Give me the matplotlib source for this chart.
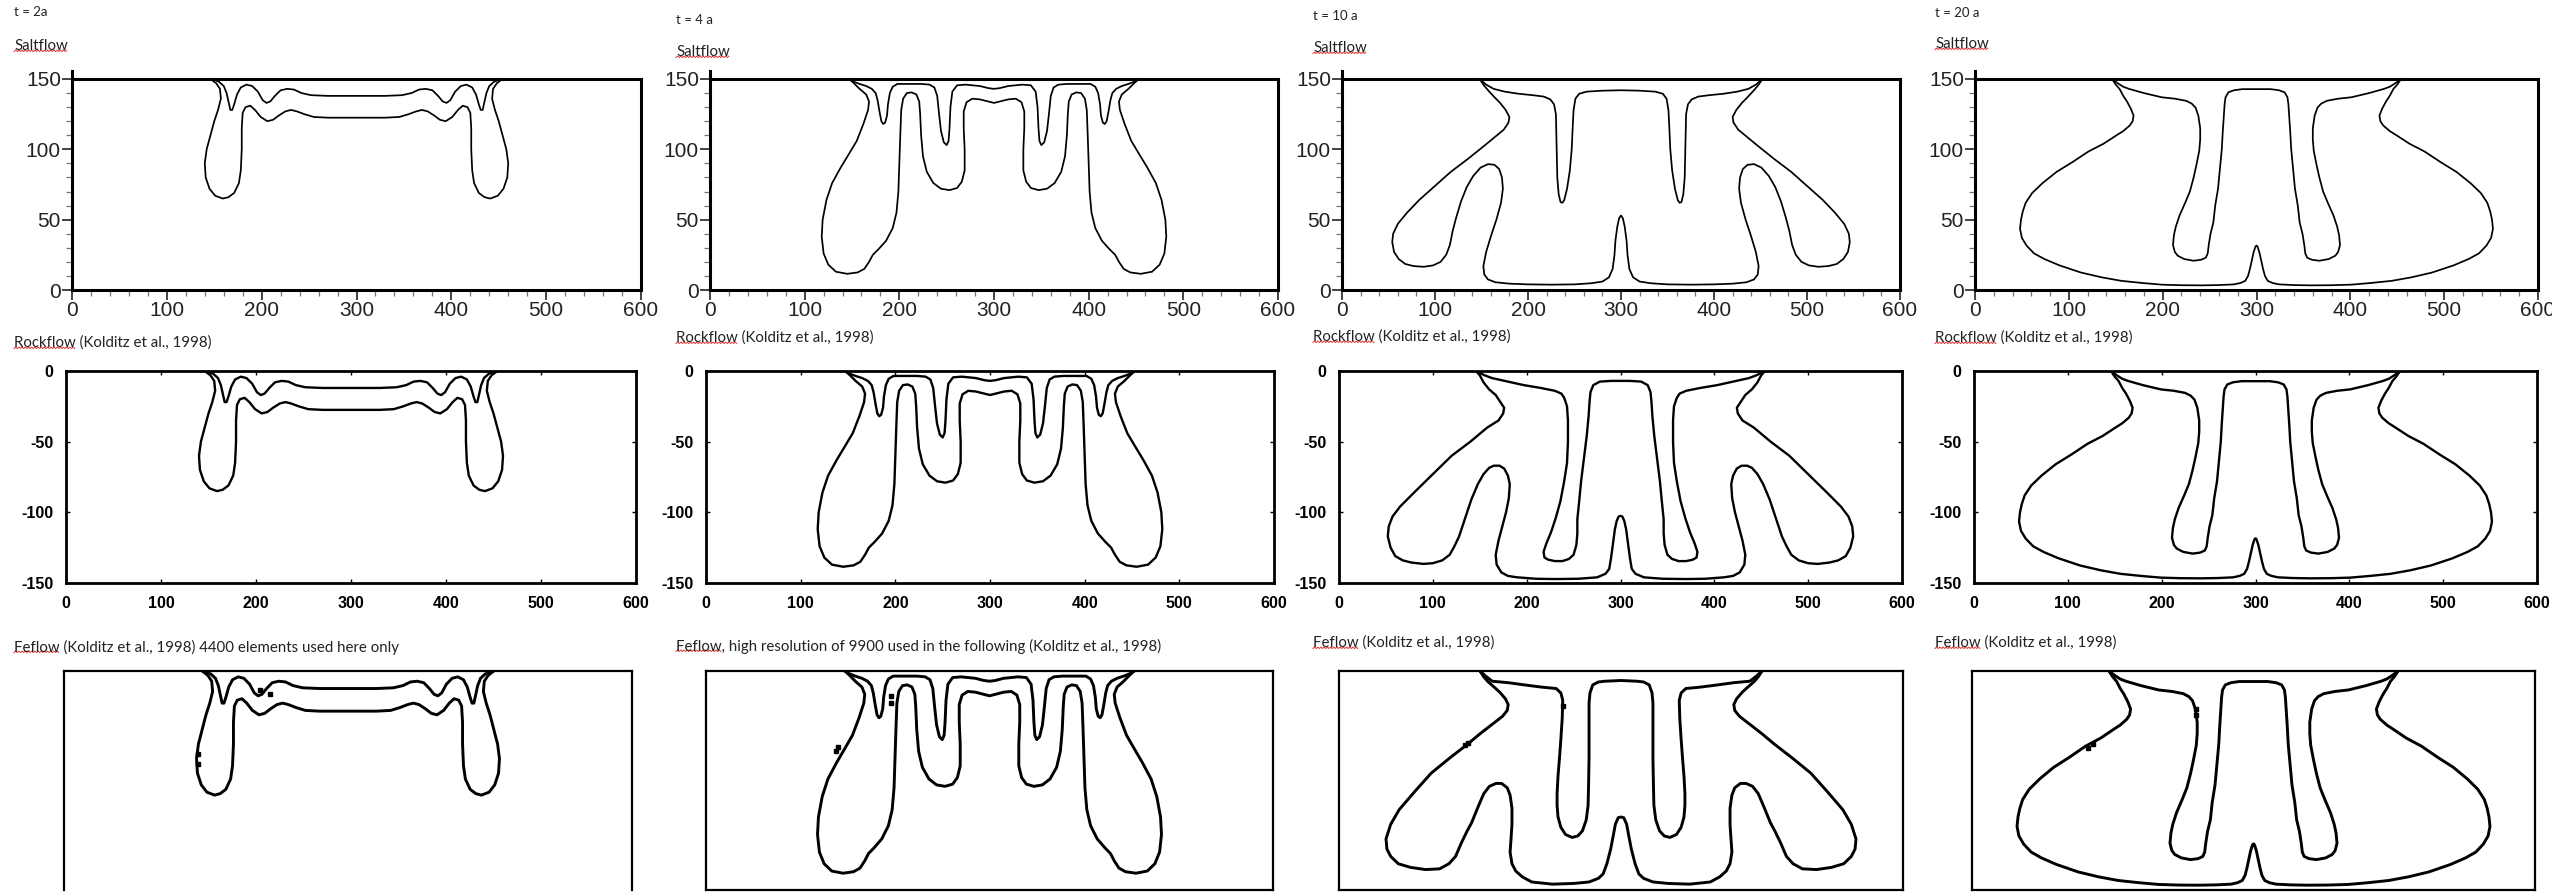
import numpy as np
import matplotlib
matplotlib.use("Agg")
import matplotlib.pyplot as plt
from matplotlib.lines import Line2D
from matplotlib.ticker import MultipleLocator
from matplotlib.transforms import IdentityTransform

plt.rcParams["axes.unicode_minus"] = False

W, H = 2552, 892

# --- contour data: left half (x, y), model units, y = 150 is the top --------
# the plumes are mirror-symmetric about x = 300, right half is x -> 600 - x

T2_OUTER = [(146, 150), (152, 147), (156, 143), (157, 136), (154, 128), (150, 120),
            (146, 110), (142, 100), (140, 90), (141, 80), (145, 72), (151, 67),
            (159, 65), (165, 66), (171, 69), (176, 76), (178, 85), (179, 100),
            (179, 115), (180, 126), (183, 130), (188, 131), (193, 128), (199, 123),
            (206, 120), (212, 121), (218, 124), (225, 127), (231, 128), (237, 127),
            (245, 125), (255, 123), (270, 122.5), (300, 122.5)]
T2_INNER = [(148, 150), (155, 148), (160, 145), (163, 140), (165, 134), (167, 128),
            (169, 128), (171, 132), (174, 139), (178, 144), (184, 146), (190, 145),
            (196, 141), (201, 135), (205, 133), (209, 134), (214, 138), (220, 142),
            (227, 143), (234, 142.5), (242, 140), (252, 138.5), (270, 138), (300, 138)]

T4_OUTER = [(147, 150), (152, 147), (158, 143), (165, 139), (168, 134), (167, 128),
            (162, 118), (155, 106), (147, 97), (138, 87), (129, 76), (123, 64),
            (119, 50), (118, 38), (120, 26), (125, 18), (133, 13), (145, 11.5),
            (156, 12.5), (163, 15), (168, 20), (172, 25), (178, 29), (186, 35),
            (193, 44), (197, 55), (199, 70), (200, 90), (201, 110), (202, 128),
            (204, 136), (208, 140), (213, 140.5), (218, 139), (221, 134), (222, 125),
            (223, 110), (225, 95), (229, 84), (236, 76), (244, 72), (253, 71),
            (261, 72.5), (266, 77), (269, 85), (269, 100), (268, 115), (268, 127),
            (271, 133.5), (277, 136), (285, 135.5), (294, 134), (300, 133)]
T4_INNER = [(147, 150), (152, 148), (158, 146.5), (165, 145), (171, 143), (175, 140),
            (177, 135), (179, 127), (181, 120), (183, 118), (185, 119), (187, 124),
            (188, 132), (190, 140), (193, 144.5), (198, 146.5), (210, 146.5),
            (223, 146.5), (232, 146), (237, 144), (240, 138), (242, 125), (244, 113),
            (247, 105), (250, 103), (252, 106), (253, 115), (254, 130), (256, 141),
            (261, 145.5), (270, 146), (285, 145), (294, 143.5), (300, 143)]

T10_OUTER = [(148, 150), (152, 146), (157, 142), (164, 137), (170, 133), (176, 128),
             (180, 123), (179, 119), (174, 114), (163, 108), (152, 102), (135, 93),
             (117, 84), (100, 74), (83, 64), (70, 55), (60, 47), (55, 40), (54, 34),
             (56, 27), (61, 22), (68, 18.5), (77, 17), (88, 16.5), (98, 17.5),
             (106, 20), (112, 25), (116, 32), (119, 42), (123, 52), (128, 63),
             (134, 73), (141, 81), (149, 87), (157, 89.5), (164, 89), (169, 86),
             (172, 80), (173, 72), (171, 62), (166, 50), (160, 38), (155, 27),
             (152, 17), (153, 11), (157, 7.5), (165, 5.5), (180, 4.5), (200, 4),
             (225, 3.8), (250, 4), (268, 4.8), (280, 6), (287, 9), (291, 15),
             (293, 25), (294, 35), (296, 45), (298, 51), (300, 53)]
T10_INNER = [(148, 150), (155, 146), (163, 143), (175, 141), (190, 139.5),
             (205, 138.5), (217, 137.5), (224, 135.5), (228, 132), (230, 125),
             (230.5, 110), (231, 95), (231.5, 80), (233, 68), (235, 62.5), (237, 62),
             (239, 64), (242, 72), (245, 85), (247, 100), (248, 115), (249, 128),
             (251, 136), (255, 139.5), (263, 141), (280, 141.7), (300, 142)]

T10_OUTER_ROCK = [(146, 150), (150, 147), (154, 142), (160, 137), (167, 133),
                  (172, 128), (176, 124), (175, 120), (170, 115), (158, 110),
                  (140, 100), (120, 90), (100, 77), (80, 64), (65, 54), (57, 47),
                  (53, 40), (52, 33), (55, 25), (60, 19), (68, 16), (77, 14.5),
                  (90, 13.5), (100, 14), (110, 16), (118, 20), (123, 26), (128, 33),
                  (134, 45), (141, 59), (148, 70), (154, 77), (160, 81.5), (165, 83),
                  (171, 83), (176, 81), (180, 76), (182, 70), (181, 60), (178, 50),
                  (174, 40), (170, 30), (167, 20), (168, 13), (173, 7.5), (180, 5),
                  (190, 4), (210, 3), (230, 2.8), (255, 3), (275, 4), (284, 6.5),
                  (288, 10), (290, 18), (292, 28), (294, 38), (296, 44), (298, 47),
                  (300, 47.5)]
T10_INNER_ROCK = [(146, 150), (155, 147), (163, 145), (180, 142.5), (197, 140),
                  (215, 138), (230, 136), (237, 134), (240, 131), (243, 125),
                  (244, 115), (244, 100), (243, 85), (240, 72), (236, 58), (231, 46),
                  (226, 36), (221, 28), (218, 22), (219, 18), (223, 16.5), (230, 15.5),
                  (238, 15.5), (245, 17), (250, 20), (253, 27), (254, 35), (254, 45),
                  (256, 58), (258, 72), (261, 88), (264, 104), (266, 118), (267, 128),
                  (268, 135), (271, 140), (278, 142.5), (290, 143), (300, 143)]

T10_OUTER_FE = [(150, 150), (154, 146), (158, 143), (165, 139), (171, 135.5),
                (177, 131), (180, 127), (179, 123), (174, 119), (162, 113), (150, 107),
                (137, 100), (117, 90), (98, 80), (80, 67), (64, 55), (55, 45), (50, 35),
                (51, 28), (55, 23), (63, 18), (76, 15.5), (92, 14), (107, 14.5),
                (117, 18), (124, 23), (130, 32), (136, 40), (141, 46), (148, 57),
                (154, 66), (160, 71), (167, 73), (173, 73), (179, 70), (182, 65),
                (184, 56), (184, 45), (183, 35), (182, 26), (184, 18), (188, 13),
                (195, 9), (205, 5.5), (227, 4), (250, 4.5), (266, 5.5), (276, 8),
                (281, 11), (285, 18), (289, 28), (292, 38), (294, 45), (297, 49.5),
                (300, 50)]
T10_INNER_FE = [(150, 150), (156, 146.5), (163, 143), (180, 142), (197, 140.5),
                (215, 139), (231, 138), (236, 135), (238, 130), (237.5, 118),
                (236, 103), (234.5, 90), (233, 78), (232, 66), (232, 58), (233, 50),
                (236, 43), (241, 38), (248, 36), (254, 37), (259, 40.5), (263, 48),
                (265, 58), (265.5, 72), (266, 90), (266, 110), (266, 128), (267, 135),
                (270, 140.5), (276, 142.5), (283, 143), (300, 143.5)]

T20_OUTER = [(146, 150), (150, 146), (154, 143), (158, 138), (162, 134), (166, 129),
             (169, 124), (168, 120), (165, 117), (158, 113), (152, 110.5), (137, 104),
             (121, 98.5), (104, 91), (87, 84), (72, 76), (61, 69), (54, 62), (51, 56),
             (49, 50), (48, 43.5), (50, 37), (55, 31.5), (63, 26), (74, 22),
             (90, 17.5), (113, 12.4), (135, 9), (156, 6.5), (178, 5), (199, 3.8),
             (220, 3.4), (242, 3.3), (260, 3.5), (276, 4), (283, 5), (288, 6.5),
             (291, 10), (293, 15), (295, 21), (297, 27), (299, 31), (300, 31.6)]
T20_INNER = [(146, 150), (152, 147), (158, 144.5), (164, 143), (180, 140), (199, 137),
             (213, 136), (225, 134.5), (231, 132.5), (235, 129.7), (238, 124),
             (240, 115), (240, 107), (239, 99), (236, 89), (233, 80), (229, 70),
             (224, 62), (218, 53), (214, 45), (212, 39), (211, 32), (213, 27),
             (216, 24.4), (223, 22), (233, 20.8), (241, 21.5), (246, 23), (248, 26),
             (249, 31.6), (251, 40), (254, 48), (256, 60), (259, 72), (261, 86),
             (263, 100), (264, 112), (265, 122), (266, 132), (267, 137), (270, 140.5),
             (276, 142), (285, 142.8), (300, 142.8)]

SALT_CURVES = [[T2_OUTER, T2_INNER], [T4_OUTER, T4_INNER],
               [T10_OUTER, T10_INNER], [T20_OUTER, T20_INNER]]
ROCK_CURVES = [[T2_OUTER, T2_INNER], [T4_OUTER, T4_INNER],
               [T10_OUTER_ROCK, T10_INNER_ROCK], [T20_OUTER, T20_INNER]]
FE_CURVES = [[T2_OUTER, T2_INNER], [T4_OUTER, T4_INNER],
             [T10_OUTER_FE, T10_INNER_FE], [T20_OUTER, T20_INNER]]

# scan specks on the Feflow contours (x, y)
FE_SPECKS = [[(207, 137), (218, 134), (142, 93), (142, 86)],
             [(140, 98), (138, 95), (196, 133), (196, 128)],
             [(137, 101), (134, 99), (238, 126)],
             [(129, 100), (124, 97), (239, 124), (239, 120)]]

TIME_LABELS = ["t = 2a", "t = 4 a", "t = 10 a", "t = 20 a"]
SALT_LABEL = "Saltflow"
ROCK_LABEL = "Rockflow (Kolditz et al., 1998)"
FE_LABELS = ["Feflow (Kolditz et al., 1998) 4400 elements used here only",
             "Feflow, high resolution of 9900 used in the following (Kolditz et al., 1998)",
             "Feflow (Kolditz et al., 1998)",
             "Feflow (Kolditz et al., 1998)"]

X_TICKS = [0, 100, 200, 300, 400, 500, 600]
Y_TICKS_SALT = [0, 50, 100, 150]
Y_TICKS_ROCK = [0, -50, -100, -150]

# --- layout in pixels of the 2552 x 892 canvas --------------------------------
TEXT_X = [14, 676, 1313, 1935]
TIME_Y = [12, 20, 16, 13]
SALT_Y = [46, 52, 48, 44]
ROCK_Y = [343, 338, 337, 338]
FE_Y = [647, 646, 643, 643]

SALT_COLS = [(72, 641), (710, 1278), (1342, 1900), (1975, 2538)]
ROCK_COLS = [(66, 636), (706, 1274), (1339, 1902), (1974, 2537)]
FE_COLS = [(64, 632), (706, 1273), (1339, 1903), (1972, 2535)]
SALT_TOP, SALT_BOT = 79, 290      # pixel rows of y=150 and y=0
ROCK_TOP, ROCK_BOT = 371, 583
FE_TOP, FE_BOT = 671, 890

TEXT_FONT = "Lato"
TEXT_SIZE = 10.8

fig = plt.figure(figsize=(W / 100, H / 100), dpi=100)
renderer = fig.canvas.get_renderer()


def add_axes_px(x0, x1, ytop, ybot):
    return fig.add_axes([x0 / W, 1 - ybot / H, (x1 - x0) / W, (ybot - ytop) / H])


def full_curve(half):
    xs = [p[0] for p in half] + [600 - p[0] for p in reversed(half)]
    ys = [p[1] for p in half] + [p[1] for p in reversed(half)]
    return np.array(xs), np.array(ys)


def label(x, y, s, word=None, size=TEXT_SIZE):
    fig.text(x / W, 1 - y / H, s, fontsize=size, family=TEXT_FONT,
             ha="left", va="center", color="#222222")
    if word:
        tmp = fig.text(x / W, 1 - y / H, word, fontsize=size, family=TEXT_FONT,
                       ha="left", va="center")
        bb = tmp.get_window_extent(renderer)
        tmp.remove()
        xs = np.arange(bb.x0, bb.x1, 1.6)
        ys = bb.y0 + 1.5 + 1.4 * (np.arange(len(xs)) % 2)
        fig.add_artist(Line2D(xs, ys, transform=IdentityTransform(),
                              color="#e03030", lw=0.7))


for i in range(4):
    label(TEXT_X[i], TIME_Y[i], TIME_LABELS[i], size=9.5)
    label(TEXT_X[i], SALT_Y[i], SALT_LABEL, word="Saltflow")
    label(TEXT_X[i], ROCK_Y[i], ROCK_LABEL, word="Rockflow")
    label(TEXT_X[i], FE_Y[i], FE_LABELS[i], word="Feflow")

    # Saltflow panel (tecplot style)
    x0, x1 = SALT_COLS[i]
    scale = (SALT_BOT - SALT_TOP) / 150.0
    ax = add_axes_px(x0, x1, SALT_BOT - 156 * scale, SALT_BOT)
    ax.set_xlim(0, 600)
    ax.set_ylim(0, 156)
    for half in SALT_CURVES[i]:
        xs, ys = full_curve(half)
        ax.plot(xs, ys, color="black", lw=1.25, solid_joinstyle="round")
    ax.spines["top"].set_position(("data", 150))
    ax.spines["right"].set_bounds(0, 150)
    for sp in ax.spines.values():
        sp.set_linewidth(2.2)
    ax.set_xticks(X_TICKS)
    ax.set_yticks(Y_TICKS_SALT)
    ax.xaxis.set_minor_locator(MultipleLocator(20))
    ax.set_yticks([v for v in range(10, 151, 10) if v % 50], minor=True)
    ax.tick_params(which="major", length=7, width=1.2, direction="out", pad=1,
                   labelsize=15, colors="#222222")
    ax.tick_params(which="minor", length=4, width=0.9, direction="out", colors="#777777")
    ax.tick_params(top=False, right=False, which="both")
    for t in ax.get_xticklabels() + ax.get_yticklabels():
        t.set_family("Liberation Sans")
    ax.set_facecolor("none")

    # Rockflow panel (scanned style, depth axis)
    x0, x1 = ROCK_COLS[i]
    ax = add_axes_px(x0, x1, ROCK_TOP, ROCK_BOT)
    ax.set_xlim(0, 600)
    ax.set_ylim(-150, 0)
    for half in ROCK_CURVES[i]:
        xs, ys = full_curve(half)
        ax.plot(xs, ys - 150, color="black", lw=1.7, solid_joinstyle="round")
    for sp in ax.spines.values():
        sp.set_linewidth(2.0)
    ax.set_xticks(X_TICKS)
    ax.set_yticks(Y_TICKS_ROCK)
    ax.tick_params(direction="in", length=3, width=1.0, top=True, right=True,
                   labelsize=11.5, pad=9)
    for t in ax.get_xticklabels() + ax.get_yticklabels():
        t.set_family("Liberation Sans")
        t.set_fontweight("bold")

    # Feflow panel (box only)
    x0, x1 = FE_COLS[i]
    ax = add_axes_px(x0, x1, FE_TOP, FE_BOT)
    ax.set_xlim(0, 600)
    ax.set_ylim(0, 150)
    for half in FE_CURVES[i]:
        xs, ys = full_curve(half)
        ax.plot(xs, ys, color="black", lw=2.1, solid_joinstyle="round")
    sx = [p[0] for p in FE_SPECKS[i]]
    sy = [p[1] for p in FE_SPECKS[i]]
    ax.plot(sx, sy, "s", color="black", ms=3.2, ls="none")
    for sp in ax.spines.values():
        sp.set_linewidth(1.6)
    if i == 0:
        ax.spines["bottom"].set_visible(False)
    ax.set_xticks([])
    ax.set_yticks([])

fig.savefig("out.png", dpi=100)
